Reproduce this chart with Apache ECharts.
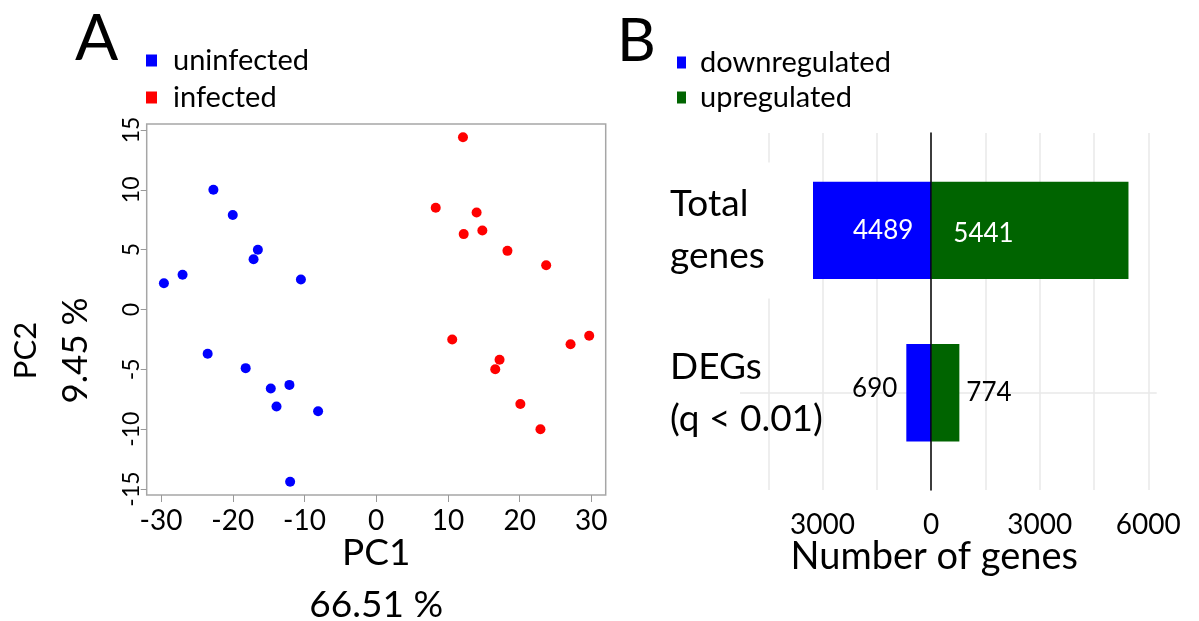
<!DOCTYPE html>
<html><head><meta charset="utf-8">
<script src="https://cdn.jsdelivr.net/npm/echarts@6/dist/echarts.min.js"></script>
<style>html,body{margin:0;padding:0;background:#fff}#c{width:1199px;height:621px}</style>
</head><body><div id="c"></div>
<script>
// ---- data ----
const uninfectedPC1 = [-22.7, -20.0, -16.5, -17.1, -27.0, -29.6, -10.5, -23.5, -18.2, -14.7, -12.1, -13.9, -8.1, -12.0];
const uninfectedPC2 = [10.0, 7.9, 5.0, 4.2, 2.9, 2.2, 2.5, -3.7, -4.9, -6.6, -6.3, -8.1, -8.5, -14.4];
const infectedPC1 = [12.1, 8.3, 14.0, 12.2, 14.8, 18.3, 23.7, 10.6, 27.1, 29.7, 17.2, 16.6, 20.1, 22.9];
const infectedPC2 = [14.4, 8.5, 8.1, 6.3, 6.6, 4.9, 3.7, -2.5, -2.9, -2.2, -4.2, -5.0, -7.9, -10.0];
const pc1Ticks = [-30, -20, -10, 0, 10, 20, 30];
const pc2Ticks = [-15, -10, -5, 0, 5, 10, 15];
const categories = ['Total\ngenes', 'DEGs\n(q < 0.01)'];
const downregulated = [4489, 690];
const upregulated = [5441, 774];
const geneTickLabels = [-3000, 0, 3000, 6000];

// ---- chart ----
const F = 'Lato';
const zip = (a, b) => a.map((v, i) => [v, b[i]]);
const chart = echarts.init(document.getElementById('c'), null, {renderer: 'canvas'});

const downLabels = [
  {show: true, position: 'insideRight', distance: 18, color: '#fff', fontSize: 26, fontFamily: F},
  {show: true, position: 'left', distance: 9, offset: [0, -4], color: '#000', fontSize: 26, fontFamily: F}
];
const upLabels = [
  {show: true, position: 'insideLeft', distance: 22, offset: [0, 3], color: '#fff', fontSize: 26, fontFamily: F},
  {show: true, position: 'right', distance: 7, color: '#000', fontSize: 26, fontFamily: F}
];
const categoryLabelStyles = [
  {align: 'left', backgroundColor: '#fff', width: 143, padding: [24, 0, 8, 0]},
  {align: 'left'}
];

const option = {
  animation: false,
  backgroundColor: '#fff',
  textStyle: {fontFamily: F, color: '#000'},
  title: [
    {text: 'A', left: 70, top: 2, textStyle: {fontFamily: F, fontSize: 64, fontWeight: 'normal', color: '#000'}},
    {text: 'B', left: 612, top: 7, textStyle: {fontFamily: F, fontSize: 60, fontWeight: 'normal', color: '#000'}}
  ],
  legend: [
    {data: ['uninfected', 'infected'], orient: 'vertical', left: 141, top: 41, icon: 'rect',
     itemWidth: 11, itemHeight: 12, itemGap: 8,
     textStyle: {fontFamily: F, fontSize: 29, color: '#000', padding: [6, 0, 0, 11]}},
    {data: ['downregulated', 'upregulated'], orient: 'vertical', left: 672, top: 43, icon: 'rect',
     itemWidth: 9, itemHeight: 12, itemGap: 6,
     textStyle: {fontFamily: F, fontSize: 29, color: '#000', padding: [0, 0, 0, 9]}}
  ],
  grid: [
    {left: 146.7, right: 593.3, top: 124, bottom: 126, show: true, borderColor: '#a6a6a6', borderWidth: 1.5, outerBoundsMode: 'none', containLabel: false},
    {left: 768.3, right: 50.7, top: 133, bottom: 131, outerBoundsMode: 'none', containLabel: false},
    {left: 740, right: 42.3, top: 149.2, bottom: 147.1, outerBoundsMode: 'none', containLabel: false}
  ],
  xAxis: [
    {gridIndex: 0, type: 'value', min: -32, max: 32,
     name: 'PC1\n66.51 %', nameLocation: 'middle', nameGap: 32, nameMoveOverlap: false,
     nameTextStyle: {fontFamily: F, fontSize: 37, lineHeight: 52, color: '#000'},
     axisLine: {show: false, onZero: false},
     axisTick: {customValues: pc1Ticks, length: 7, lineStyle: {color: '#999'}},
     axisLabel: {customValues: pc1Ticks, fontSize: 28, margin: 12, color: '#000', fontFamily: F},
     splitLine: {show: false}},
    {gridIndex: 1, type: 'value', min: -4500, max: 6000, interval: 1500,
     name: 'Number of genes', nameLocation: 'middle', nameGap: 48, nameMoveOverlap: false,
     nameTextStyle: {fontFamily: F, fontSize: 38, color: '#000', padding: [0, 48, 0, 0]},
     axisLine: {show: false, onZero: false}, axisTick: {show: false},
     axisLabel: {fontSize: 28, margin: 21, color: '#000', fontFamily: F,
       formatter: v => geneTickLabels.indexOf(v) >= 0 ? String(Math.abs(v)) : ''},
     splitLine: {show: true, lineStyle: {color: '#e8e8e8', width: 1.5}}},
    {gridIndex: 2, type: 'value', min: -5280, max: 6220, show: false}
  ],
  yAxis: [
    {gridIndex: 0, type: 'value', min: -15.5, max: 15.5,
     name: '{a|PC2}\n{b|9.45 %}', nameLocation: 'middle', nameGap: 46, nameMoveOverlap: false,
     nameTextStyle: {padding: [0, 82, 0, 0],
       rich: {a: {fontFamily: F, fontSize: 31, lineHeight: 50, color: '#000', align: 'center'},
              b: {fontFamily: F, fontSize: 35, lineHeight: 50, color: '#000', align: 'center'}}},
     axisLine: {show: false, onZero: false},
     axisTick: {customValues: pc2Ticks, length: 6, lineStyle: {color: '#999'}},
     axisLabel: {customValues: pc2Ticks, rotate: 90, fontSize: 23, margin: 4, color: '#000', fontFamily: F},
     splitLine: {show: false}},
    {gridIndex: 1, type: 'value', min: 0, max: 1, z: 3,
     axisLine: {show: true, onZero: true, lineStyle: {color: '#000', width: 1.5}},
     axisTick: {show: false}, axisLabel: {show: false}, splitLine: {show: false}},
    {gridIndex: 2, type: 'category', inverse: true, z: 10,
     data: categories.map((c, i) => ({value: c, textStyle: categoryLabelStyles[i]})),
     axisLine: {show: false}, axisTick: {show: false}, splitLine: {show: false},
     axisLabel: {align: 'left', margin: 70, fontFamily: F, fontSize: 37, lineHeight: 52, color: '#000'}}
  ],
  series: [
    {name: 'uninfected', type: 'scatter', xAxisIndex: 0, yAxisIndex: 0,
     data: zip(uninfectedPC1, uninfectedPC2), symbolSize: 10, itemStyle: {color: '#0000ff', opacity: 1}},
    {name: 'infected', type: 'scatter', xAxisIndex: 0, yAxisIndex: 0,
     data: zip(infectedPC1, infectedPC2), symbolSize: 10, itemStyle: {color: '#ff0000', opacity: 1}},
    {name: 'downregulated', type: 'bar', xAxisIndex: 2, yAxisIndex: 2, barWidth: '60%', barGap: '-100%',
     itemStyle: {color: '#0000ff'},
     label: {formatter: p => String(Math.abs(p.value))},
     data: downregulated.map((v, i) => ({value: -v, label: downLabels[i]}))},
    {name: 'upregulated', type: 'bar', xAxisIndex: 2, yAxisIndex: 2, barWidth: '60%', barGap: '-100%',
     itemStyle: {color: '#006400'},
     label: {formatter: p => String(Math.abs(p.value))},
     markLine: {silent: true, symbol: 'none', z: 1, label: {show: false},
       lineStyle: {color: '#e8e8e8', width: 1.5, type: 'solid'},
       data: [{yAxis: categories[1]}]},
     data: upregulated.map((v, i) => ({value: v, label: upLabels[i]}))}
  ]
};
chart.setOption(option);
</script>
</body></html>
